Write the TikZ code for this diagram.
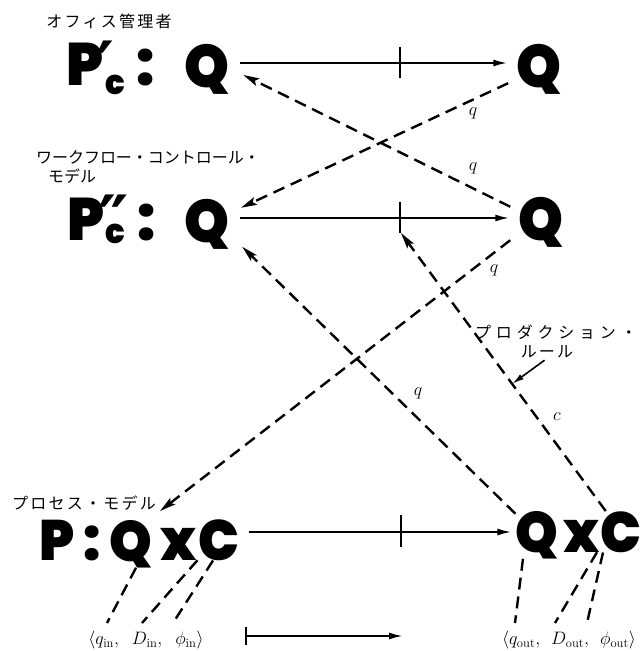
\RequirePackage{fix-cm}
\documentclass[tikz,border=0pt]{standalone}
\usepackage{fontspec}
\usetikzlibrary{arrows.meta,calc}
\newfontfamily\bigf{Poppins Black}[FakeStretch=0.95]
\newfontfamily\djv{DejaVu Sans}
\newfontfamily\jpf{Noto Sans CJK JP}
\newfontfamily\jpw{Noto Sans CJK JP}[LetterSpace=14]
\newfontfamily\jpww{Noto Sans CJK JP}[LetterSpace=30]
\tikzset{
 big/.style={font=\bigf\fontsize{60}{60}\selectfont, inner sep=0pt},
 bigb/.style={font=\bigf\fontsize{57}{57}\selectfont, inner sep=0pt},
 subc/.style={font=\bigf\fontsize{34}{34}\selectfont, inner sep=0pt},
 prm/.style={font=\djv\bfseries\fontsize{68}{68}\selectfont, inner sep=0pt},
 jp/.style={font=\jpf\fontsize{16}{18}\selectfont, inner sep=0pt},
 jpwide/.style={font=\jpw\fontsize{16}{18}\selectfont, inner sep=0pt},
 jpwider/.style={font=\jpww\fontsize{16}{18}\selectfont, inner sep=0pt},
 lbl/.style={font=\fontsize{18}{18}\selectfont, inner sep=0pt},
 tup/.style={font=\fontsize{18}{18}\selectfont, inner sep=0pt},
 solidarr/.style={line width=2pt, -{Latex[length=14pt,width=7pt]}},
 dasharr/.style={line width=2.4pt, dash pattern=on 12pt off 7pt, -{Stealth[length=16pt,width=8pt,inset=3pt]}},
 dashln/.style={line width=2.4pt, dash pattern=on 12pt off 7pt},
 tickln/.style={line width=2pt}
}
\begin{document}
\begin{tikzpicture}[x=1pt,y=-1pt]
\useasboundingbox (0,0) rectangle (643,651);
% row 1
\node[jpwide] (jp1) at (109,21) {オフィス管理者};
\node[big, anchor=base west] (P1) at (66,85) {P};
\node[prm, anchor=north west] (pr1) at (96,41) {′};
\node[subc, anchor=base west] (c1) at (105,94) {c};
\node[big, anchor=base west] (col1) at (136,85) {:};
\node[big, anchor=base] (Q1L) at (206.5,87) {Q};
\node[big, anchor=base] (Q1R) at (539,87) {Q};
% row 2
\node[jp] (jp2a) at (148,157) {ワークフロー・コントロール・};
\node[jp] (jp2b) at (72,176) {モデル};
\node[big, anchor=base west] (P2) at (67,240) {P};
\node[prm, anchor=north west] (pr2) at (98,195) {″};
\node[subc, anchor=base west] (c2) at (105,243) {c};
\node[big, anchor=base west] (col2) at (137,240) {:};
\node[big, anchor=base] (Q2L) at (206.5,242) {Q};
\node[big, anchor=base] (Q2R) at (541,240) {Q};
% row 3
\node[jpwide] (jp3) at (84,503) {プロセス・モデル};
\node[bigb, anchor=base west] (P3) at (39,560) {P};
\node[bigb, anchor=base west] (col3) at (83,560) {:};
\node[bigb, anchor=base] (Q3L) at (131,561) {Q};
\node[bigb, anchor=base] (x3L) at (178.5,560) {x};
\node[bigb, anchor=base] (C3L) at (219,560) {C};
\node[bigb, anchor=base] (Q3R) at (537,552) {Q};
\node[bigb, anchor=base] (x3R) at (582,552) {x};
\node[bigb, anchor=base] (C3R) at (621,552) {C};
% production rule label
\node[jpwider] (jp4a) at (556,332) {プロダクション・};
\node[jpwide] (jp4b) at (547,352) {ルール};
% ticks
\coordinate (t1) at (400,63);
\coordinate (t2) at (400,218);
\coordinate (t2b) at (401,233);
\coordinate (t3) at (401,532);
\draw[tickln] (t1) ++(0,-16) -- ++(0,31);
\draw[tickln] (t2) ++(0,-16) -- ++(0,31);
\draw[tickln] (t3) ++(0,-17) -- ++(0,32);
% solid arrows
\draw[solidarr, shorten <=11pt, shorten >=9pt] (Q1L.east |- t1) -- (Q1R.west |- t1);
\draw[solidarr, shorten <=11pt, shorten >=9pt] (Q2L.east |- t2) -- (Q2R.west |- t2);
\draw[solidarr, shorten <=9pt, shorten >=4pt] (C3L.east |- t3) -- (Q3R.west |- t3);
% dashed arrows
\draw[dasharr, shorten <=9pt, shorten >=13pt] (Q1R) -- (Q2L);
\draw[dasharr, shorten <=9pt, shorten >=41pt] (Q2R) -- ([yshift=12pt]Q1L.center);
\coordinate (l3end) at (160,511);
\draw[dasharr, shorten <=30pt] ([xshift=-7pt]Q2R.center) -- (l3end);
\draw[dasharr, shorten >=50pt] (Q3R) -- ([yshift=12pt]Q2L.center);
\draw[dasharr] (C3R) -- (t2b);
\path (C3R.center) -- (t2b) coordinate[pos=0.495] (cpt);
\draw[line width=1.6pt, -{Latex[length=12pt,width=6pt]}, shorten <=3pt] (jp4b.south) -- (cpt);
% labels
\node[lbl] (lq1) at (473,113) {$q$};
\node[lbl] (lq2) at (473,168) {$q$};
\node[lbl] (lq3) at (494,270) {$q$};
\node[lbl] (lq4) at (418,393) {$q$};
\node[lbl] (lc) at (557,417) {$c$};
% tuples
\node[tup] (tin) at (146,640) {$\langle q_{\mathrm{in}},\hspace{10pt} D_{\mathrm{in}},\hspace{10pt} \phi_{\mathrm{in}}\rangle$};
\node[tup] (tout) at (569,640) {$\langle q_{\mathrm{out}},\hspace{8pt} D_{\mathrm{out}},\hspace{8pt} \phi_{\mathrm{out}}\rangle$};
\coordinate (qin) at (107,623);
\coordinate (Din) at (142,623);
\coordinate (phin) at (173,623);
\coordinate (qout) at (515,623);
\coordinate (Dout) at (555,623);
\coordinate (phout) at (587,623);
\draw[dashln] ([xshift=5pt]Q3L.south) -- (qin);
\draw[dashln] ([xshift=19pt]x3L.south) -- (Din);
\draw[dashln] ([xshift=-6pt]C3L.south) -- (phin);
\draw[dashln] ([xshift=-14pt]Q3R.south) -- (qout);
\draw[dashln] ([xshift=15pt]x3R.south) -- (Dout);
\draw[dashln] ([xshift=-18pt]C3R.south) -- (phout);
% bottom arrow
\coordinate (ba) at (245,636);
\coordinate (bb) at (403,636);
\draw[line width=2pt, {Bar[width=18pt]}-{Latex[length=14pt,width=7pt]}] (ba) -- (bb);
\end{tikzpicture}
\end{document}
